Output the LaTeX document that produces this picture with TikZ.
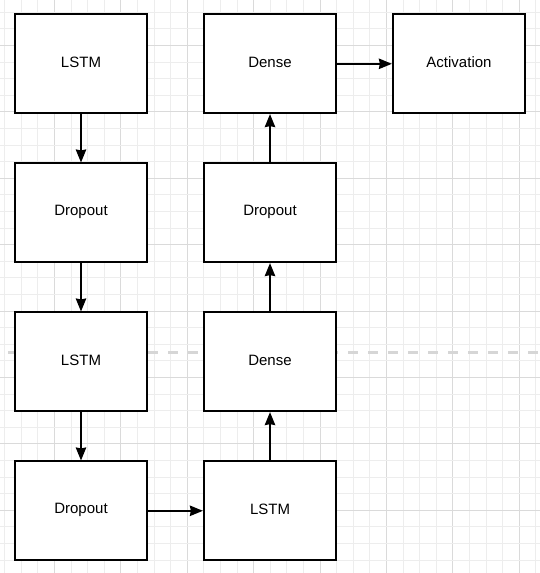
\documentclass[tikz,border=0pt]{standalone}
\usepackage{fontspec}
\setmainfont{Liberation Sans}
\usetikzlibrary{arrows.meta}
\definecolor{gridminor}{HTML}{EDEDED}
\definecolor{gridmajor}{HTML}{DADADA}
\definecolor{dashgrey}{HTML}{D6D6D6}
\tikzset{
  blk/.style={draw=black, fill=white, line width=1.7pt, minimum width=132.6pt, minimum height=99pt,
              font=\fontsize{15}{18}\selectfont, inner sep=0pt},
  lbl/.style={font=\fontsize{15}{18}\selectfont, inner sep=0pt},
  arr/.style={draw=black, line width=1.5pt, -{Stealth[length=13pt, width=10.5pt, inset=1pt]}},
  gridmin/.style={draw=gridminor, line width=1pt},
  gridmaj/.style={draw=gridmajor, line width=1pt},
  sepline/.style={draw=dashgrey, line width=3pt, dash pattern=on 10pt off 10pt}
}
\begin{document}
\begin{tikzpicture}[x=1pt, y=-1pt]
\useasboundingbox (0,0) rectangle (540,573);
\fill[white] (0,0) rectangle (540,573);
% grid
\foreach \k in {0,...,32} {
  \pgfmathsetmacro{\gx}{4.7+16.6*\k}
  \pgfmathtruncatemacro{\m}{mod(\k,4)}
  \ifnum\m=3
    \draw[gridmaj] (\gx,0) -- (\gx,573);
  \else
    \draw[gridmin] (\gx,0) -- (\gx,573);
  \fi
}
\foreach \k in {0,...,33} {
  \pgfmathsetmacro{\gy}{12.3+16.6*\k}
  \pgfmathtruncatemacro{\m}{mod(\k,4)}
  \ifnum\m=2
    \draw[gridmaj] (0,\gy) -- (540,\gy);
  \else
    \draw[gridmin] (0,\gy) -- (540,\gy);
  \fi
}
% dashed separator
\coordinate (sepA) at (8.3,352);
\coordinate (sepB) at (540,352);
\draw[sepline] (sepA) -- (sepB);
% nodes
\node[blk] (lstm1) at (81,63.8) {};
\node[blk] (drop1) at (81,212.8) {};
\node[blk] (lstm2) at (81,361.8) {};
\node[blk] (drop2) at (81,510.8) {};
\node[blk] (lstm3) at (270,510.8) {};
\node[blk] (dense1) at (270,361.8) {};
\node[blk] (drop3) at (270,212.8) {};
\node[blk] (dense2) at (270,63.8) {};
\node[blk] (act) at (459,63.8) {};
% labels
\node[lbl] (tlstm1) at ([yshift=1.3pt]lstm1.center) {LSTM};
\node[lbl] (tdrop1) at ([yshift=1.3pt]drop1.center) {Dropout};
\node[lbl] (tlstm2) at ([yshift=1.3pt]lstm2.center) {LSTM};
\node[lbl] (tdrop2) at ([yshift=1.3pt]drop2.center) {Dropout};
\node[lbl] (tlstm3) at ([yshift=1.3pt]lstm3.center) {LSTM};
\node[lbl] (tdense1) at ([yshift=1.3pt]dense1.center) {Dense};
\node[lbl] (tdrop3) at ([yshift=1.3pt]drop3.center) {Dropout};
\node[lbl] (tdense2) at ([yshift=1.3pt]dense2.center) {Dense};
\node[lbl] (tact) at ([yshift=1.3pt]act.center) {Activation};
% connectors
\draw[arr] (lstm1) -- (drop1);
\draw[arr] (drop1) -- (lstm2);
\draw[arr] (lstm2) -- (drop2);
\draw[arr] (drop2) -- (lstm3);
\draw[arr] (lstm3) -- (dense1);
\draw[arr] (dense1) -- (drop3);
\draw[arr] (drop3) -- (dense2);
\draw[arr] (dense2) -- (act);
\end{tikzpicture}
\end{document}
